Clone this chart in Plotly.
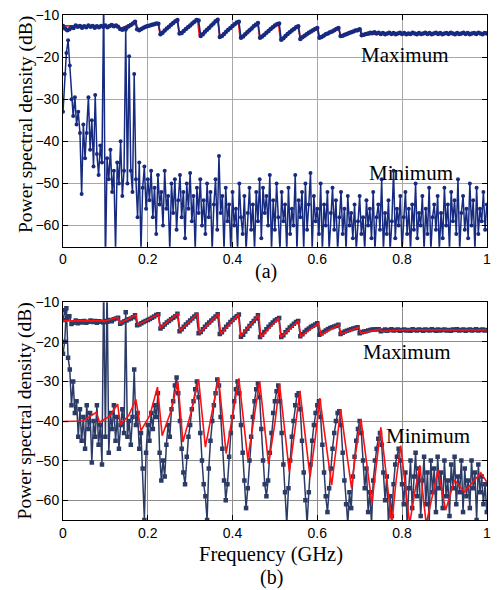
import plotly.graph_objects as go

# ---------------- data ----------------
STEP_MAX = 0.005
STEP_MIN = 0.004

# (a) maximum, measured
a_max = [
    -12.6, -13.2, -13.6, -13.4, -12.9, -13.1, -12.5, -12.8, -12.6, -13.0,
    -12.7, -12.9, -12.5, -12.8, -12.6, -13.0, -12.7, -12.9, -12.6, -12.8,
    -12.5, -12.9, -12.6, -12.4, -12.7, -12.5, -12.8, -13.3, -13.5, -13.2,
    -13.0, -12.7, -12.4, -12.0, -11.6, -13.4, -13.6, -13.3, -13.0, -12.8,
    -12.6, -12.5, -12.3, -12.2, -12.0, -12.1, -14.6, -14.2, -13.7, -13.2,
    -12.8, -12.3, -11.9, -11.5, -11.2, -14.4, -14.3, -13.8, -13.3, -12.9,
    -12.5, -12.0, -11.6, -11.2, -11.3, -15.0, -14.6, -14.0, -13.5, -13.0,
    -12.5, -12.0, -11.5, -11.1, -15.2, -15.0, -14.5, -14.0, -13.5, -13.1,
    -12.6, -12.2, -11.8, -11.6, -15.4, -15.1, -14.6, -14.1, -13.6, -13.2,
    -12.7, -12.3, -11.9, -15.4, -15.1, -14.7, -14.2, -13.8, -13.3, -12.9,
    -12.5, -12.2, -12.0, -15.9, -15.5, -15.0, -14.5, -14.1, -13.7, -13.3,
    -12.9, -12.7, -15.7, -15.3, -14.9, -14.6, -14.2, -13.9, -13.6, -13.3,
    -13.1, -15.4, -15.2, -14.9, -14.6, -14.4, -14.1, -13.9, -13.6, -13.3,
    -13.1, -15.0, -14.9, -14.7, -14.5, -14.3, -14.1, -13.9, -13.7, -13.6,
    -13.4, -14.8, -14.7, -14.5, -14.4, -14.2, -14.3, -14.1, -14.4, -14.2,
    -14.5, -14.3, -14.6, -14.4, -14.2, -14.5, -14.3, -14.6, -14.4, -14.2,
    -14.5, -14.3, -14.6, -14.4, -14.5, -14.2, -14.4, -14.6, -14.3, -14.5,
    -14.4, -14.2, -14.5, -14.3, -14.6, -14.4, -14.2, -14.5, -14.3, -14.6,
    -14.4, -14.3, -14.5, -14.2, -14.4, -14.6, -14.3, -14.5, -14.4, -14.2,
    -14.5, -14.3, -14.6, -14.4, -14.3, -14.5, -14.2, -14.4, -14.6, -14.3,
    -14.4,
]

# (a) minimum, measured
a_min = [
    -33, -24, -19, -16, -22, -30, -34, -29.5, -36, -33,
    -38, -52.5, -36, -44, -38, -29.5, -42, -35, -46, -29,
    -43, -48, -41, -45, -5, -70, -44, -49, -42, -52,
    -47, -66, -45, -50, -40, -53, -47, -13.5, -50, -19.8,
    -47, -52, -24, -49, -58, -45, -66, -51, -46, -56,
    -49, -54, -47, -58, -51, -62, -48, -55, -52, -60,
    -47, -56, -53, -66, -50, -57, -49, -61, -54, -48,
    -58, -52, -63, -50, -56, -47.5, -59, -53, -66, -51,
    -57, -49, -60, -54, -62, -50, -58, -52, -66, -55,
    -49, -61, -43.5, -57, -53, -66, -51, -59, -55, -66,
    -52, -60, -56, -66, -50, -58, -62, -53, -66, -57,
    -51, -61, -55, -66, -52, -59, -49, -63, -51, -57,
    -53, -60, -48, -66, -54, -61, -50, -58, -66, -52,
    -59, -55, -66, -51, -62, -56, -60, -48, -66, -54,
    -58, -52, -66, -50, -61, -55, -47.5, -66, -53, -59,
    -56, -62, -50, -66, -55, -60, -52, -66, -57, -51,
    -61, -54, -66, -58, -52, -62, -56, -66, -53, -60,
    -57, -63, -55, -66, -59, -53, -62, -58, -66, -54,
    -60, -56, -63, -52, -66, -58, -55, -61, -49, -66,
    -57, -62, -54, -66, -59, -47, -63, -56, -60, -53,
    -66, -58, -52, -62, -56, -66, -55, -61, -50, -63,
    -57, -60, -53, -66, -56, -62, -51, -66, -58, -55,
    -61, -53, -66, -57, -63, -51, -60, -55, -66, -52,
    -59, -54, -62, -49, -66, -57, -53, -61, -56, -63,
    -50, -60, -54, -66, -51, -62, -56, -59, -52, -61,
    -55,
]

# (a) model curve (red) vertices
a_fit_f = [0, 0.13, 0.135, 0.172, 0.176, 0.225, 0.229, 0.270, 0.274, 0.318,
           0.322, 0.366, 0.370, 0.414, 0.418, 0.460, 0.464, 0.509, 0.513, 0.556,
           0.560, 0.601, 0.605, 0.651, 0.655, 0.702, 0.706, 0.75, 1.0]
a_fit_db = [-12.6, -12.6, -13.3, -11.6, -13.5, -12.0, -14.5, -11.2, -14.4, -11.2,
            -15.0, -11.1, -15.2, -11.6, -15.4, -11.9, -15.4, -12.0, -15.9, -12.7,
            -15.7, -13.1, -15.4, -13.1, -15.0, -13.4, -14.8, -14.4, -14.4]

# (b) maximum, measured
b_max = [
    -14.5, -12.0, -14.0, -13.5, -15.5, -15.2, -14.6, -15.3, -14.8, -15.1,
    -14.7, -15.2, -14.9, -14.6, -15.0, -14.7, -15.2, -14.8, -14.9, -15.1,
    -14.7, -14.9, -14.5, -14.8, -14.3, -14.1, -13.9, -15.4, -15.1, -14.8,
    -14.6, -14.3, -14.1, -13.8, -13.3, -15.8, -15.6, -15.3, -15.0, -14.7,
    -14.5, -14.2, -13.9, -13.6, -13.2, -13.0, -16.6, -16.2, -15.6, -15.1,
    -14.7, -14.3, -13.9, -13.5, -12.9, -17.3, -16.8, -16.2, -15.6, -15.1,
    -14.6, -14.1, -13.6, -13.1, -17.8, -17.5, -16.8, -16.2, -15.6, -15.1,
    -14.6, -14.1, -13.6, -13.0, -18.0, -17.6, -16.9, -16.2, -15.6, -15.0,
    -14.5, -14.0, -13.5, -13.1, -18.7, -18.2, -17.4, -16.7, -16.0, -15.3,
    -14.7, -14.1, -13.3, -18.8, -18.2, -17.5, -16.8, -16.2, -15.6, -15.1,
    -14.6, -14.3, -14.0, -18.8, -18.3, -17.6, -17.0, -16.4, -15.9, -15.4,
    -15.0, -14.7, -18.6, -18.1, -17.5, -17.0, -16.6, -16.2, -15.9, -15.6,
    -15.3, -18.2, -17.9, -17.5, -17.1, -16.8, -16.5, -16.3, -16.1, -15.9,
    -15.7, -18.0, -17.7, -17.4, -17.2, -17.0, -16.8, -16.6, -16.5, -16.3,
    -17.8, -17.6, -17.4, -17.3, -17.1, -17.0, -16.9, -16.9, -16.8, -16.8,
    -17.3, -17.1, -16.9, -17.2, -17.0, -16.8, -17.1, -17.0, -16.9, -17.2,
    -17.0, -16.9, -17.1, -17.0, -17.2, -16.8, -17.0, -17.1, -16.9, -17.0,
    -17.2, -16.9, -17.0, -17.1, -16.8, -17.0, -17.2, -16.9, -17.1, -17.0,
    -16.9, -17.1, -17.0, -17.2, -16.9, -17.0, -16.8, -17.1, -17.0, -16.9,
    -17.2, -17.0, -16.9, -17.1, -17.0, -16.8, -17.1, -17.0, -16.9, -17.1,
    -17.0,
]

# (b) minimum, measured
b_min = [
    -23, -20, -11.5, -24, -27, -36, -30, -38, -35, -44,
    -37, -45, -39, -47, -36, -42, -38, -50.5, -40, -44,
    -36, -46, -41, -51, -5, -44, -5, -48, -38, -42,
    -36, -45, -39, -47, -41, -37, -43, -12.5, -44, -40,
    -46, -39, -27, -41, -38, -47, -43, -52, -65, -48,
    -41, -45, -38, -42, -36, -39, -33, -48, -55, -50,
    -54, -46, -41, -44, -37, -35, -31, -29, -33, -40,
    -47, -53, -56, -49, -44, -41, -37, -35, -32, -30,
    -34, -43, -50, -56, -59, -65, -52, -45, -40, -36,
    -33, -29.5, -31, -39, -47, -55, -60, -56, -49, -43,
    -39, -35, -32, -30, -33, -41, -48, -55, -62, -57,
    -50, -44, -39, -35, -32, -30.5, -34, -42, -50, -56,
    -59, -55, -48, -43, -38, -35, -32.5, -31, -35, -43,
    -51, -58, -66, -57, -50, -44, -40, -36, -33.5, -33,
    -37, -45, -53, -60, -66, -58, -51, -45, -41, -38,
    -36, -35, -39, -46, -53, -59, -63, -57, -52, -47,
    -43, -40, -38, -37.5, -41, -48, -55, -61, -66, -58,
    -62, -54, -49, -45, -42, -40, -43, -50, -57, -52,
    -63, -58, -66, -55, -50, -47, -44.5, -43, -46, -53,
    -60, -54, -66, -59, -64, -56, -51, -49, -47, -50,
    -56, -61, -53, -66, -57, -50, -62, -54, -48, -59,
    -52, -64, -55, -49, -61, -53, -66, -50, -58, -52,
    -63, -49, -57, -53, -62, -50, -59, -55, -64, -51,
    -57, -49, -61, -54, -58, -50, -63, -52, -59, -55,
    -62, -50, -57, -53, -65, -51, -58, -54, -61, -56,
    -63,
]

# (b) model curves (red) vertices
b_fit_max_f = [0, 0.10, 0.129, 0.134, 0.172, 0.177, 0.225, 0.229, 0.271, 0.276,
               0.318, 0.322, 0.367, 0.372, 0.414, 0.419, 0.462, 0.467, 0.509, 0.514,
               0.556, 0.561, 0.603, 0.609, 0.651, 0.656, 0.698, 0.703, 0.748, 0.752,
               0.8, 1.0]
b_fit_max_db = [-14.7, -14.7, -13.8, -15.3, -13.2, -15.7, -13.0, -16.5, -12.8, -17.2,
                -12.8, -17.8, -12.9, -18.0, -13.1, -18.6, -13.2, -18.8, -14.0, -18.8,
                -14.7, -18.6, -15.3, -18.2, -15.7, -18.0, -16.3, -17.8, -16.8, -17.3,
                -17.0, -17.0]

b_fit_min_f = [0, 0.047, 0.079, 0.086, 0.11, 0.129, 0.135, 0.155, 0.172, 0.184,
               0.205, 0.223, 0.234, 0.255, 0.271, 0.283, 0.303, 0.320, 0.336, 0.352,
               0.367, 0.385, 0.40, 0.415, 0.436, 0.45, 0.464, 0.485, 0.50, 0.511,
               0.534, 0.547, 0.559, 0.583, 0.595, 0.606, 0.634, 0.645, 0.655, 0.681,
               0.69, 0.703, 0.729, 0.74, 0.750, 0.776, 0.786, 0.797, 0.818, 0.83,
               0.842, 0.857, 0.885, 0.903, 0.924, 0.947, 0.986, 1.0]
b_fit_min_db = [-40.1, -40.0, -37.8, -40.3, -38.8, -35.7, -40.9, -38.6, -34.5, -42.4,
                -38.5, -31.4, -43.7, -37.5, -29.9, -45.3, -37.5, -29.5, -46.6, -37.5,
                -29.1, -48.2, -38.5, -29.2, -49.6, -39.5, -29.9, -50.8, -40.5, -30.7,
                -52.8, -42.5, -32.4, -54.1, -44.5, -34.2, -56.2, -46.5, -37.0, -57.0,
                -48.5, -39.5, -60.8, -50.5, -41.6, -66.0, -55.0, -46.2, -66.0, -58.0,
                -51.2, -66.0, -52.4, -62.5, -54.9, -57.9, -53.1, -55.4]

f_max = [round(i * STEP_MAX, 4) for i in range(len(a_max))]
f_min = [round(i * STEP_MIN, 4) for i in range(len(a_min))]

x_ticks = [0, 0.2, 0.4, 0.6, 0.8, 1]
x_tick_text = ["0", "0.2", "0.4", "0.6", "0.8", "1"]
y_ticks = [-10, -20, -30, -40, -50, -60]

# ---------------- styling ----------------
NAVY_A = "#162a80"
NAVY_B = "#2b3b66"
RED = "#ff1010"
SERIF = "Liberation Serif"
SANS = "Liberation Sans"

fig = go.Figure()

# panel (a)
fig.add_trace(go.Scatter(x=a_fit_f, y=a_fit_db, mode="lines",
                         line=dict(color=RED, width=1.8), xaxis="x", yaxis="y",
                         showlegend=False))
fig.add_trace(go.Scatter(x=f_max, y=a_max, mode="lines+markers",
                         line=dict(color=NAVY_A, width=1.6),
                         marker=dict(color=NAVY_A, size=4.5), xaxis="x", yaxis="y",
                         showlegend=False))
fig.add_trace(go.Scatter(x=f_min, y=a_min, mode="lines+markers",
                         line=dict(color=NAVY_A, width=1.5),
                         marker=dict(color=NAVY_A, size=4), xaxis="x", yaxis="y",
                         showlegend=False))

# panel (b)
fig.add_trace(go.Scatter(x=f_max, y=b_max, mode="lines+markers",
                         line=dict(color=NAVY_B, width=1.6),
                         marker=dict(color=NAVY_B, size=4.5, symbol="square"),
                         xaxis="x2", yaxis="y2", showlegend=False))
fig.add_trace(go.Scatter(x=f_min, y=b_min, mode="lines+markers",
                         line=dict(color=NAVY_B, width=1.5),
                         marker=dict(color=NAVY_B, size=4.5, symbol="square"),
                         xaxis="x2", yaxis="y2", showlegend=False))
fig.add_trace(go.Scatter(x=b_fit_max_f, y=b_fit_max_db, mode="lines",
                         line=dict(color=RED, width=1.6), xaxis="x2", yaxis="y2",
                         showlegend=False))
fig.add_trace(go.Scatter(x=b_fit_min_f, y=b_fit_min_db, mode="lines",
                         line=dict(color=RED, width=1.6), xaxis="x2", yaxis="y2",
                         showlegend=False))

axis_common = dict(
    showline=True, linecolor="black", linewidth=1, mirror="ticks",
    ticks="inside", ticklen=5, tickcolor="black",
    showgrid=True, zeroline=False,
    tickfont=dict(family=SANS, size=14, color="black"),
)

TOP_DOM = [0.5413, 1.0]
BOT_DOM = [0.0, 0.4311]

fig.update_layout(
    width=498, height=590,
    margin=dict(l=63, r=7, t=12, b=70),
    paper_bgcolor="white", plot_bgcolor="white",
    xaxis=dict(domain=[0, 1], range=[0, 1.0005], anchor="y", tickvals=x_ticks,
               ticktext=x_tick_text, gridcolor="#a8a8a8", gridwidth=1, **axis_common),
    yaxis=dict(domain=TOP_DOM, range=[-65, -10], anchor="x", tickvals=y_ticks,
               gridcolor="#a8a8a8", gridwidth=1, **axis_common),
    xaxis2=dict(domain=[0, 1], range=[0, 1.0005], anchor="y2", tickvals=x_ticks,
                ticktext=x_tick_text, gridcolor="#8c8c8c", gridwidth=1.3,
                **axis_common),
    yaxis2=dict(domain=BOT_DOM, range=[-65, -10], anchor="x2", tickvals=y_ticks,
                gridcolor="#8c8c8c", gridwidth=1.3, **axis_common),
    annotations=[
        dict(text="Power spectral density (dB)", x=-0.089, y=(TOP_DOM[0] + TOP_DOM[1]) / 2 + 0.012,
             xref="paper", yref="paper", textangle=-90, showarrow=False,
             xanchor="center", yanchor="middle",
             font=dict(family=SERIF, size=19.5, color="black")),
        dict(text="Power spectral density (dB)", x=-0.089, y=(BOT_DOM[0] + BOT_DOM[1]) / 2,
             xref="paper", yref="paper", textangle=-90, showarrow=False,
             xanchor="center", yanchor="middle",
             font=dict(family=SERIF, size=19.5, color="black")),
        dict(text="Frequency (GHz)", x=0.491, y=-0.069, xref="paper", yref="paper",
             showarrow=False, xanchor="center", yanchor="middle",
             font=dict(family=SERIF, size=20.5, color="black")),
        dict(text="Maximum", x=0.808, y=-19.4, xref="x", yref="y", showarrow=False,
             font=dict(family=SERIF, size=21, color="black")),
        dict(text="Minimum", x=0.822, y=-47.4, xref="x", yref="y", showarrow=False,
             font=dict(family=SERIF, size=21, color="black")),
        dict(text="Maximum", x=0.811, y=-22.5, xref="x2", yref="y2", showarrow=False,
             font=dict(family=SERIF, size=21, color="black")),
        dict(text="Minimum", x=0.861, y=-43.7, xref="x2", yref="y2", showarrow=False,
             font=dict(family=SERIF, size=21, color="black")),
        dict(text="(a)", x=0.479, y=0.4921, xref="paper", yref="paper", showarrow=False,
             xanchor="center", yanchor="middle",
             font=dict(family=SERIF, size=20, color="black")),
        dict(text="(b)", x=0.491, y=-0.114, xref="paper", yref="paper", showarrow=False,
             xanchor="center", yanchor="middle",
             font=dict(family=SERIF, size=20, color="black")),
    ],
)

fig.write_html("out.html", config={"displayModeBar": False},
               post_script="document.body.style.margin='0';")
